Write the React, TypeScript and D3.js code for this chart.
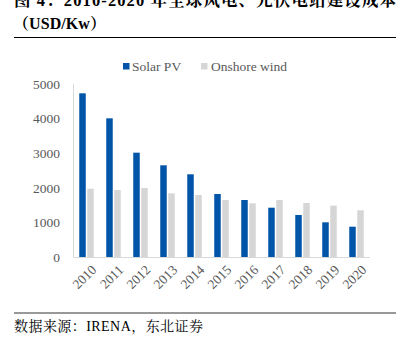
import React from "react";
import * as d3 from "d3";

const years = ["2010", "2011", "2012", "2013", "2014", "2015", "2016", "2017", "2018", "2019", "2020"];
const solarPV = [4731, 4008, 3015, 2650, 2390, 1821, 1647, 1425, 1214, 1003, 876];
const onshoreWind = [1974, 1936, 1994, 1840, 1792, 1647, 1551, 1647, 1560, 1483, 1350];
const yTicks = [0, 1000, 2000, 3000, 4000, 5000];
const seriesNames = ["Solar PV", "Onshore wind"];
const titleLine1 = "图 4：2010-2020 年全球风电、光伏电站建设成本";
const titleLine2 = "（USD/Kw）";
const sourceText = "数据来源：IRENA，东北证券";

const BLUE = "#0055A8";
const GRAY = "#D6D6D6";
const TEXT = "#595959";
const SERIF = "Liberation Serif, Times New Roman, Noto Serif CJK SC, Noto Sans CJK SC, serif";

export default function App() {
  const W = 410, H = 337;
  const left = 73, right = 370, top = 84, bottom = 257;
  const x = d3.scaleBand<string>().domain(years).range([left, right]);
  const y = d3.scaleLinear().domain([0, 5000]).range([bottom, top]);
  const barW = 6.5;
  const gap = 1.5;

  return (
    <svg width={W} height={H} style={{ position: "absolute", left: 0, top: 0, background: "#fff", fontFamily: SERIF }}>
      <text x={14} y={6} style={{ fontFamily: SERIF }} fontWeight="bold" fontSize={16.5} fill="#000"
        textLength={382} lengthAdjust="spacing">{titleLine1}</text>
      <text x={13} y={29} style={{ fontFamily: SERIF }} fontWeight="bold" fontSize={16} fill="#000"
        textLength={93} lengthAdjust="spacing">{titleLine2}</text>
      <line x1={14} x2={396} y1={37.5} y2={37.5} stroke="#000" strokeWidth={1.2} />

      {/* legend */}
      <rect x={123} y={63} width={6.5} height={6.5} fill={BLUE} />
      <text x={132} y={71} style={{ fontFamily: SERIF }} fontSize={13.5} fill={TEXT}>{seriesNames[0]}</text>
      <rect x={201} y={63} width={6.5} height={6.5} fill={GRAY} />
      <text x={211} y={71} style={{ fontFamily: SERIF }} fontSize={13.5} fill={TEXT}>{seriesNames[1]}</text>

      {/* y axis */}
      <line x1={left + 0.5} x2={left + 0.5} y1={top} y2={bottom} stroke="#D9D9D9" />
      {yTicks.map((t) => (
        <text key={t} x={60} y={y(t)} dy="0.35em" textAnchor="end" style={{ fontFamily: SERIF }} fontSize={13.5} fill={TEXT}>{t}</text>
      ))}

      {/* bars */}
      {years.map((yr, i) => {
        const c = (x(yr) as number) + x.bandwidth() / 2;
        return (
          <g key={yr}>
            <rect x={c - gap / 2 - barW} y={y(solarPV[i])} width={barW} height={bottom - y(solarPV[i])} fill={BLUE} />
            <rect x={c + gap / 2} y={y(onshoreWind[i])} width={barW} height={bottom - y(onshoreWind[i])} fill={GRAY} />
          </g>
        );
      })}

      {/* x axis */}
      <line x1={left} x2={right} y1={bottom + 0.5} y2={bottom + 0.5} stroke="#D9D9D9" />
      {years.map((yr) => {
        const c = (x(yr) as number) + x.bandwidth() / 2;
        return (
          <text key={yr} transform={`translate(${c + 4},${bottom + 7}) rotate(-45)`} textAnchor="end" dy="0.7em"
            style={{ fontFamily: SERIF }} fontSize={13.5} fill={TEXT}>{yr}</text>
        );
      })}

      <line x1={14} x2={396} y1={313} y2={313} stroke="#333" strokeWidth={1} />
      <text x={14} y={331} style={{ fontFamily: SERIF }} fontSize={14} fill="#000" textLength={189} lengthAdjust="spacing">{sourceText}</text>
    </svg>
  );
}
